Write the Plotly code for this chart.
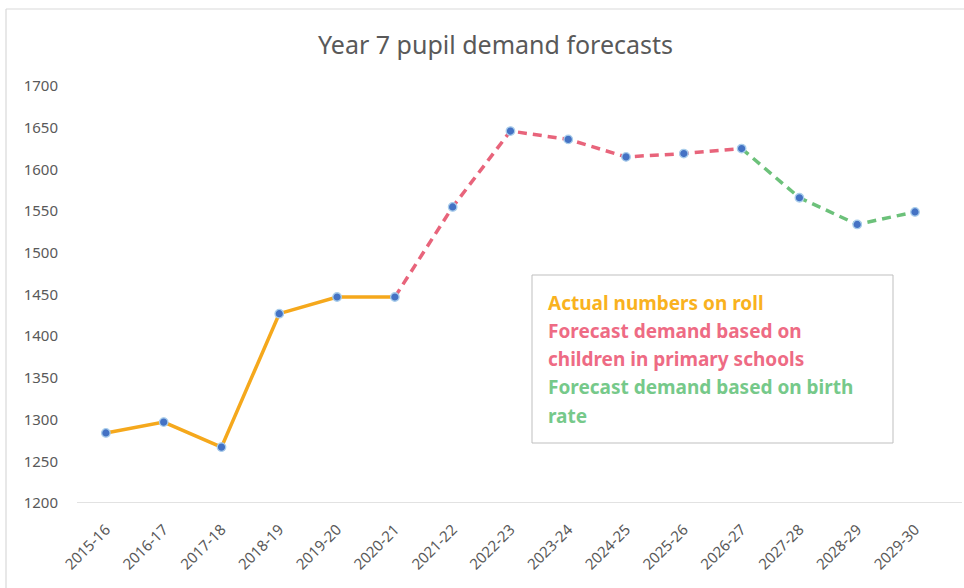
import plotly.graph_objects as go

years = ["2015-16", "2016-17", "2017-18", "2018-19", "2019-20", "2020-21", "2021-22",
         "2022-23", "2023-24", "2024-25", "2025-26", "2026-27", "2027-28", "2028-29", "2029-30"]
pupils = [1284, 1297, 1267, 1427, 1447, 1447, 1555, 1646, 1636, 1615, 1619, 1625, 1566, 1534, 1549]

# index ranges for each segment of the line
actual_idx = list(range(0, 6))
primary_idx = list(range(5, 12))
birth_idx = list(range(11, 15))

y_ticks = [1200, 1250, 1300, 1350, 1400, 1450, 1500, 1550, 1600, 1650, 1700]

legend_lines = [
    ("Actual numbers on roll", "#F9B21E"),
    ("Forecast demand based on", "#EE6B84"),
    ("children in primary schools", "#EE6B84"),
    ("Forecast demand based on birth", "#76C98A"),
    ("rate", "#76C98A"),
]

ORANGE = "#F5A81C"
PINK = "#E8647B"
GREEN = "#6CC17A"
TXT = "#595959"
FONT = "Noto Sans"

fig = go.Figure()

def seg(idx, color, dash):
    fig.add_trace(go.Scatter(
        x=idx, y=[pupils[i] for i in idx], mode="lines",
        line=dict(color=color, width=3.5, dash=dash),
        hoverinfo="skip", showlegend=False,
    ))

seg(actual_idx, ORANGE, "solid")
seg(primary_idx, PINK, "9px,6px")
seg(birth_idx, GREEN, "9px,6px")

fig.add_trace(go.Scatter(
    x=list(range(len(years))), y=pupils, mode="markers",
    marker=dict(color="#4472C4", size=8.5, line=dict(color="#A9CDEB", width=1.3)),
    showlegend=False,
))

# plot-area geometry in pixels (for the frame and text box)
L, R, T, B = 77, 962, 86, 503
W, H = R - L, B - T

def px(x):
    return (x - L) / W

def py(y):
    return (B - y) / H

shapes = [
    # baseline at 1200
    dict(type="line", xref="paper", yref="y", x0=0, x1=1, y0=1200, y1=1200,
         line=dict(color="#D9D9D9", width=1.5)),
    # outer chart frame (top and left edges)
    dict(type="line", xref="paper", yref="paper", x0=px(6), x1=px(970), y0=py(9), y1=py(9),
         line=dict(color="#D9D9D9", width=1.2)),
    dict(type="line", xref="paper", yref="paper", x0=px(6), x1=px(6), y0=py(9), y1=py(600),
         line=dict(color="#D9D9D9", width=1.2)),
    # text box
    dict(type="rect", xref="paper", yref="paper", x0=px(532), x1=px(893), y0=py(443), y1=py(275),
         line=dict(color="#BFBFBF", width=1), fillcolor="white", layer="above"),
]

annotations = []
line_y = [303, 331, 359, 387, 416]
for (txt, col), yy in zip(legend_lines, line_y):
    annotations.append(dict(
        xref="paper", yref="paper", x=px(546), y=py(yy), xanchor="left", yanchor="middle",
        text=f"<b>{txt}</b>", showarrow=False,
        font=dict(family=FONT, size=19, color=col),
    ))

fig.update_layout(
    width=964, height=588,
    margin=dict(l=L, r=964 - R, t=T, b=588 - B),
    paper_bgcolor="white", plot_bgcolor="white",
    title=dict(text="Year 7 pupil demand forecasts", x=(313 + 678) / 2 / 964, xanchor="center",
               y=1 - 45 / 588, yanchor="middle",
               font=dict(family=FONT, size=25, color=TXT)),
    xaxis=dict(
        range=[-0.5, (R - 106) / ((915 - 106) / 14)],
        tickmode="array", tickvals=list(range(len(years))), ticktext=years,
        tickangle=-45, showgrid=False, zeroline=False, showline=False, ticks="",
        tickfont=dict(family=FONT, size=15, color=TXT), ticklabelstandoff=14,
    ),
    yaxis=dict(
        range=[1200, 1700], tickmode="array", tickvals=y_ticks,
        showgrid=False, zeroline=False, showline=False, ticks="",
        tickfont=dict(family=FONT, size=15, color=TXT), ticklabelstandoff=18,
    ),
    shapes=shapes,
    annotations=annotations,
)

fig.write_html("out.html")
